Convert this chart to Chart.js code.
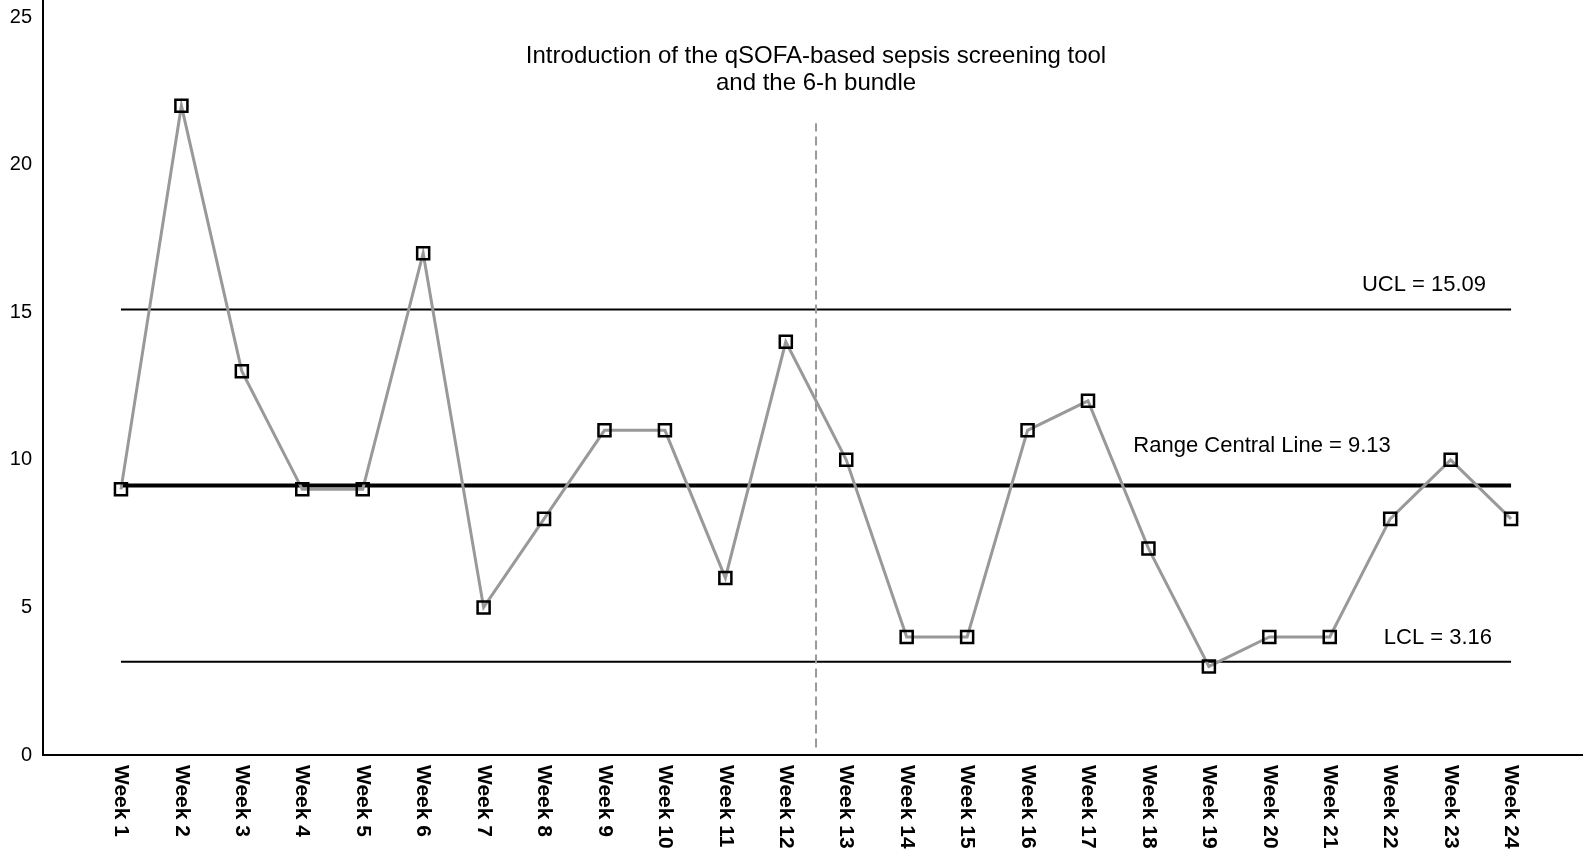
<!DOCTYPE html>
<html>
<head>
<meta charset="utf-8">
<script src="https://cdn.jsdelivr.net/npm/chart.js@4.4.1/dist/chart.umd.min.js"></script>
<style>
  html, body { margin: 0; padding: 0; background: #fff; }
  #wrap { width: 1583px; height: 850px; position: relative; }
</style>
</head>
<body>
<div id="wrap"><canvas id="chart"></canvas></div>
<script>
// data
const weeks = ['Week 1','Week 2','Week 3','Week 4','Week 5','Week 6','Week 7','Week 8','Week 9','Week 10','Week 11','Week 12',
               'Week 13','Week 14','Week 15','Week 16','Week 17','Week 18','Week 19','Week 20','Week 21','Week 22','Week 23','Week 24'];
const counts = [9, 22, 13, 9, 9, 17, 5, 8, 11, 11, 6, 14, 10, 4, 4, 11, 12, 7, 3, 4, 4, 8, 10, 8];
const yTicks = [0, 5, 10, 15, 20, 25];
const ucl = 15.09;
const centralLine = 9.13;
const lcl = 3.16;
const introWeek = 12.5;          // intervention between week 12 and 13
const introSpan = [0.25, 21.4];  // extent of the dashed marker
const titleLines = ['Introduction of the qSOFA-based sepsis screening tool', 'and the 6-h bundle'];

const FONT = '"Liberation Sans", Arial, sans-serif';

// text labels next to the control lines (offsets in px from the anchor)
const notes = [
  { text: 'UCL = ' + ucl, x: weeks.length, y: ucl, align: 'right', dx: -25, dy: -25 },
  { text: 'Range Central Line = ' + centralLine, x: 17.75, y: centralLine, align: 'left', dx: 0, dy: -40 },
  { text: 'LCL = ' + lcl, x: weeks.length, y: lcl, align: 'right', dx: -19, dy: -24 }
];

const hLine = v => [{ x: 1, y: v }, { x: weeks.length, y: v }];

// no extra padding around the plot, the axes run to the canvas edges
const noPad = s => { s.paddingTop = 0; s.paddingBottom = 0; s.paddingLeft = 0; s.paddingRight = 0; };

const textPlugin = {
  id: 'textPlugin',
  afterDraw(chart) {
    const { ctx, scales: { x, y }, chartArea } = chart;
    ctx.save();
    ctx.fillStyle = '#000';

    // rotated week labels (reading top to bottom)
    ctx.font = 'bold 21px ' + FONT;
    ctx.textAlign = 'left';
    ctx.textBaseline = 'middle';
    weeks.forEach((w, i) => {
      ctx.save();
      ctx.translate(x.getPixelForValue(i + 1), y.bottom + 10);
      ctx.rotate(Math.PI / 2);
      ctx.fillText(w, 0, 0);
      ctx.restore();
    });

    // intervention title, centred over the dashed line
    ctx.font = '24px ' + FONT;
    ctx.textAlign = 'center';
    const tx = x.getPixelForValue(introWeek);
    titleLines.forEach((t, k) => ctx.fillText(t, tx, chartArea.top + 56 + k * 27));

    // control line labels
    ctx.font = '22px ' + FONT;
    notes.forEach(n => {
      ctx.textAlign = n.align;
      ctx.fillText(n.text, x.getPixelForValue(n.x) + n.dx, y.getPixelForValue(n.y) + n.dy);
    });
    ctx.restore();
  }
};

new Chart(document.getElementById('chart'), {
  type: 'line',
  data: {
    datasets: [
      {
        label: 'Range',
        data: counts.map((v, i) => ({ x: i + 1, y: v })),
        borderColor: '#999',
        borderWidth: 3,
        pointStyle: 'rect',
        pointRadius: 8.5,
        pointBorderWidth: 2.5,
        pointBorderColor: '#000',
        pointBackgroundColor: 'rgba(0,0,0,0)',
        order: 0
      },
      { label: 'UCL', data: hLine(ucl), borderColor: '#000', borderWidth: 2, pointRadius: 0, order: 2 },
      { label: 'CL', data: hLine(centralLine), borderColor: '#000', borderWidth: 4, pointRadius: 0, order: 2 },
      { label: 'LCL', data: hLine(lcl), borderColor: '#000', borderWidth: 2, pointRadius: 0, order: 2 },
      {
        label: 'Intro',
        data: introSpan.map(v => ({ x: introWeek, y: v })),
        borderColor: '#999', borderWidth: 2, borderDash: [9, 5], pointRadius: 0, order: 1
      }
    ]
  },
  options: {
    responsive: true,
    maintainAspectRatio: false,
    animation: false,
    layout: { padding: 0, autoPadding: false },
    plugins: { legend: { display: false }, tooltip: { enabled: false } },
    scales: {
      x: {
        type: 'linear',
        min: -0.29,
        max: 25.19,
        grid: { display: false, drawTicks: false },
        border: { display: true, color: '#000', width: 2 },
        ticks: { display: false },
        afterFit: s => { s.height = 95; noPad(s); }
      },
      y: {
        min: 0,
        max: 25.58,
        grid: { display: false, drawTicks: false },
        border: { display: true, color: '#000', width: 2 },
        afterBuildTicks: s => { s.ticks = yTicks.map(v => ({ value: v })); },
        afterFit: s => { s.width = 43; noPad(s); },
        ticks: {
          padding: 11,
          color: '#000',
          font: { family: FONT, size: 20 }
        }
      }
    }
  },
  plugins: [textPlugin]
});
</script>
</body>
</html>
